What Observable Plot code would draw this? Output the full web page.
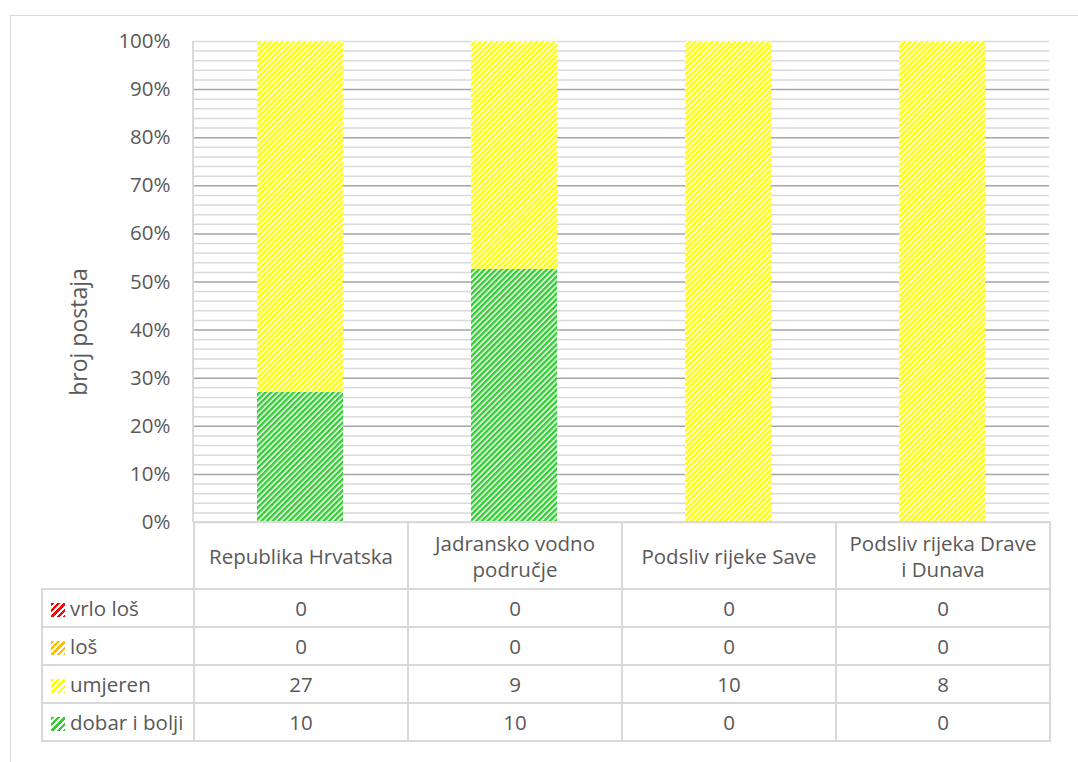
<!DOCTYPE html>
<html>
<head>
<meta charset="utf-8">
<script src="https://cdn.jsdelivr.net/npm/d3@7"></script>
<script src="https://cdn.jsdelivr.net/npm/@observablehq/plot@0.6"></script>
<style>
  html, body { margin: 0; padding: 0; background: #fff; overflow: hidden; width: 1078px; height: 762px; }
  body { position: relative; font-family: "Open Sans", sans-serif; color: #595959; }
  #frame { position: absolute; left: 10px; top: 15px; width: 1100px; height: 800px; border: 1px solid #d9d9d9; box-sizing: border-box; }
  #chart { position: absolute; left: 0; top: 0; }
  #ylabel { position: absolute; left: 78px; top: 332px; transform: translate(-50%, -50%) rotate(-90deg); font-size: 23px; white-space: nowrap; }
  #vline { position: absolute; left: 192px; top: 41px; width: 2px; height: 481px; background: #d9d9d9; }
  #tbl { position: absolute; left: 41px; top: 521px; border-collapse: collapse; table-layout: fixed; font-size: 20.5px; color: #595959; }
  #tbl td { border: 2px solid #d9d9d9; text-align: center; padding: 0 2px; line-height: 26px; }
  #tbl tr.head td { height: 65px; white-space: pre-line; }
  #tbl tr.head td.blank { border-top: none; border-left: none; }
  #tbl tr.body td { height: 36px; }
  #tbl td.leg { text-align: left; padding-left: 8px; white-space: nowrap; }
  .sw { display: inline-block; width: 14px; height: 14px; margin-right: 5px; vertical-align: -1px; }
</style>
</head>
<body>
<div id="frame"></div>
<div id="chart"></div>
<div id="vline"></div>
<div id="ylabel">broj postaja</div>
<table id="tbl"></table>
<script>
// ---- data ----
const categories = ["Republika Hrvatska", "Jadransko vodno područje", "Podsliv rijeke Save", "Podsliv rijeka Drave i Dunava"];
const headerLabels = ["Republika Hrvatska", "Jadransko vodno\npodručje", "Podsliv rijeke Save", "Podsliv rijeka Drave\ni Dunava"];
const seriesNames = ["vrlo loš", "loš", "umjeren", "dobar i bolji"]; // table order (top to bottom)
const vrloLos = [0, 0, 0, 0];
const los = [0, 0, 0, 0];
const umjeren = [27, 9, 10, 8];
const dobar = [10, 10, 0, 0];
const seriesColors = ["#ff0000", "#ffc000", "#ffff00", "#33cc33"];
const yTicks = [0, 0.1, 0.2, 0.3, 0.4, 0.5, 0.6, 0.7, 0.8, 0.9, 1];

const seriesValues = [vrloLos, los, umjeren, dobar];
const patternIds = seriesNames.map((s, i) => "hatch" + i);

// stacking order bottom -> top: dobar, umjeren, loš, vrlo loš
const stackOrder = [3, 2, 1, 0];
const rows = [];
for (const si of stackOrder) {
  categories.forEach((c, ci) => rows.push({category: c, series: seriesNames[si], value: seriesValues[si][ci]}));
}

const minorGrid = d3.range(0, 51).map(i => i / 50).filter(v => Math.round(v * 50) % 5 !== 0 || v === 1 || v === 0);
const majorGrid = yTicks.filter(v => v > 0 && v < 1);

const plot = Plot.plot({
  width: 1078,
  height: 545,
  marginTop: 41,
  marginBottom: 23,
  marginLeft: 193,
  marginRight: 29,
  style: {fontFamily: "Open Sans, sans-serif", background: "transparent", color: "#595959"},
  x: {domain: categories, paddingInner: 0.6, paddingOuter: 0.3, axis: null},
  y: {domain: [0, 1], axis: null},
  color: {domain: seriesNames, range: patternIds.map(id => `url(#${id})`)},
  marks: [
    Plot.ruleY(minorGrid, {stroke: "#d9d9d9", strokeWidth: 1.5}),
    Plot.ruleY(majorGrid, {stroke: "#a6a6a6", strokeWidth: 1.5}),
    Plot.axisY({ticks: yTicks, tickFormat: d3.format(".0%"), tickSize: 0, tickPadding: 23, fontSize: 20.5, label: null, fill: "#595959"}),
    Plot.barY(rows, Plot.stackY({offset: "normalize", x: "category", y: "value", fill: "series", order: null}))
  ]
});

// add hatch pattern defs
const svg = d3.select(plot);
const defs = svg.insert("defs", ":first-child");
seriesColors.forEach((col, i) => {
  const p = defs.append("pattern").attr("id", patternIds[i]).attr("patternUnits", "userSpaceOnUse")
    .attr("width", 4).attr("height", 4).attr("patternTransform", "rotate(45)");
  p.append("rect").attr("width", 4).attr("height", 4).attr("fill", "#fff");
  p.append("rect").attr("width", 2.5).attr("height", 4).attr("fill", col);
});
document.getElementById("chart").appendChild(plot);

// data table below the chart
const tbl = d3.select("#tbl");
const cg = tbl.append("colgroup");
cg.append("col").style("width", "152px");
categories.forEach(() => cg.append("col").style("width", "214px"));
const head = tbl.append("tr").attr("class", "head");
head.append("td").attr("class", "blank");
headerLabels.forEach(h => head.append("td").text(h));
seriesNames.forEach((s, si) => {
  const tr = tbl.append("tr").attr("class", "body");
  const td = tr.append("td").attr("class", "leg");
  td.append("span").attr("class", "sw")
    .style("background", `repeating-linear-gradient(135deg, ${seriesColors[si]} 0 2.5px, #fff 2.5px 4.5px)`);
  td.append("span").text(s);
  seriesValues[si].forEach(v => tr.append("td").text(v));
});
</script>
</body>
</html>
